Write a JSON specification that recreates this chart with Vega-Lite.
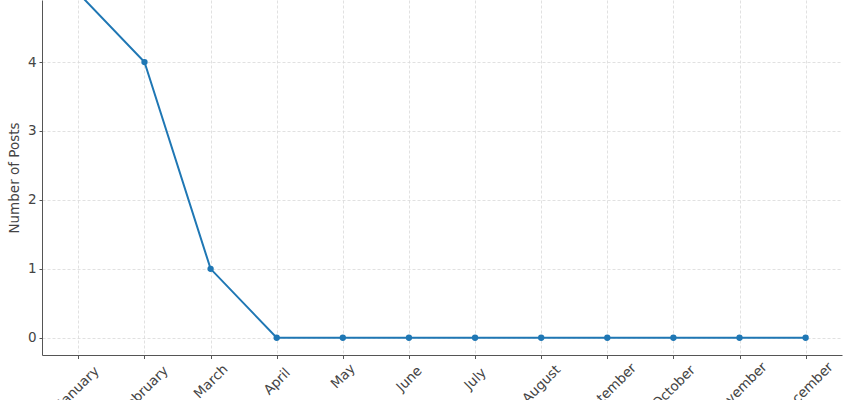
{
  "$schema": "https://vega.github.io/schema/vega-lite/v6.json",
  "autosize": "none",
  "width": 800,
  "height": 355,
  "padding": {"left": 42, "top": 0, "right": 8, "bottom": 45},
  "background": "white",
  "config": {
    "view": {"stroke": null},
    "font": "DejaVu Sans",
    "axis": {
      "labelFont": "DejaVu Sans",
      "titleFont": "DejaVu Sans",
      "labelFontSize": 13.5,
      "titleFontSize": 13.5,
      "labelColor": "#444444",
      "titleColor": "#444444",
      "titleFontWeight": "normal",
      "domainColor": "#555555",
      "tickColor": "#555555",
      "tickSize": 3.5,
      "labelPadding": 3,
      "gridColor": "#d9d9d9",
      "gridDash": [3, 2],
      "gridWidth": 0.8
    }
  },
  "data": {
    "values": [
      {"month": "January", "posts": 5},
      {"month": "February", "posts": 4},
      {"month": "March", "posts": 1},
      {"month": "April", "posts": 0},
      {"month": "May", "posts": 0},
      {"month": "June", "posts": 0},
      {"month": "July", "posts": 0},
      {"month": "August", "posts": 0},
      {"month": "September", "posts": 0},
      {"month": "October", "posts": 0},
      {"month": "November", "posts": 0},
      {"month": "December", "posts": 0}
    ]
  },
  "mark": {"type": "line", "color": "#1f77b4", "strokeWidth": 2, "clip": true, "point": {"filled": true, "size": 40, "color": "#1f77b4"}},
  "encoding": {
    "x": {
      "field": "month",
      "type": "ordinal",
      "sort": null,
      "scale": {"type": "point", "padding": 0.55},
      "axis": {
        "title": null,
        "grid": true,
        "labelAngle": -45,
        "labelAlign": "center",
        "labelBaseline": "middle",
        "labelOverlap": false,
        "labelPadding": {"expr": "3.5 + (length(datum.label)*7.5 + 17)*0.3535"}
      }
    },
    "y": {
      "field": "posts",
      "type": "quantitative",
      "scale": {"domain": [-0.25, 4.9], "nice": false, "zero": false},
      "axis": {
        "title": "Number of Posts",
        "values": [0, 1, 2, 3, 4],
        "grid": true,
        "tickSize": 3,
        "labelPadding": 3,
        "titlePadding": 6,
        "format": "d"
      }
    }
  }
}
